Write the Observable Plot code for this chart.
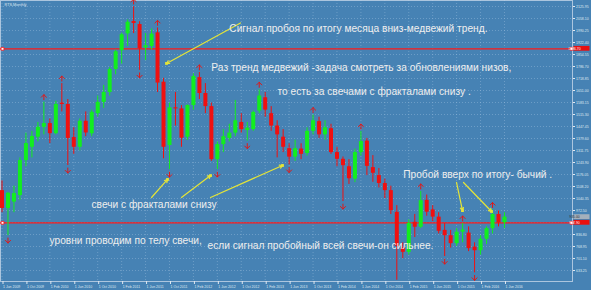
<!DOCTYPE html>
<html><head><meta charset="utf-8">
<script src="https://cdn.jsdelivr.net/npm/d3@7"></script>
<script src="https://cdn.jsdelivr.net/npm/@observablehq/plot@0.6"></script>
<style>
html,body{margin:0;padding:0;background:#4682b4;}
#chart{width:591px;height:290px;overflow:hidden;}
</style></head><body><div id="chart"></div>
<script>
// ---- data ----
const months = ["2009-06","2009-07","2009-08","2009-09","2009-10","2009-11","2009-12",
"2010-01","2010-02","2010-03","2010-04","2010-05","2010-06","2010-07","2010-08","2010-09","2010-10","2010-11","2010-12",
"2011-01","2011-02","2011-03","2011-04","2011-05","2011-06","2011-07","2011-08","2011-09","2011-10","2011-11","2011-12",
"2012-01","2012-02","2012-03","2012-04","2012-05","2012-06","2012-07","2012-08","2012-09","2012-10","2012-11","2012-12",
"2013-01","2013-02","2013-03","2013-04","2013-05","2013-06","2013-07","2013-08","2013-09","2013-10","2013-11","2013-12",
"2014-01","2014-02","2014-03","2014-04","2014-05","2014-06","2014-07","2014-08","2014-09","2014-10","2014-11","2014-12",
"2015-01","2015-02","2015-03","2015-04","2015-05","2015-06","2015-07","2015-08","2015-09","2015-10","2015-11","2015-12",
"2016-01","2016-02","2016-03","2016-04","2016-05","2016-06"];
const open  = [1085,984,1020,1057,1255,1330,1387, 1443,1464,1407,1580,1572,1385,1330,1477,1406,1520,1584,1640,
 1770,1876,1971,2041,2024,1892,1900,1977,1698,1340,1553,1547, 1387,1566,1724,1634,1560,1260,1345,1380,1410,1470,1425,1430,
 1535,1610,1520,1450,1387,1322,1274,1320,1295,1420,1475,1400, 1435,1300,1262,1220,1150,1300,1365,1215,1170,1125,1085,962,
 760,736,906,878,1030,976,935,860,830,785,850,845, 765,745,810,870,950,903];
const high  = [1140,1075,1110,1270,1410,1420,1470, 1585,1490,1590,1690,1600,1440,1490,1530,1540,1620,1680,1780,
 1880,1975,2050,2125,2040,1973,1999,2005,1720,1580,1640,1566, 1570,1745,1753,1690,1580,1360,1430,1460,1595,1520,1470,1535,
 1655,1640,1560,1480,1430,1350,1370,1350,1440,1512,1500,1480, 1460,1330,1275,1260,1320,1419,1380,1283,1210,1150,1110,1000,
 790,920,950,1080,1060,1000,960,900,860,870,899,880, 790,830,880,975,970,960];
const low   = [960,831,960,1030,1220,1270,1360, 1400,1351,1400,1530,1227,1290,1310,1390,1390,1500,1550,1620,
 1740,1800,1900,1973,1765,1820,1880,1640,1265,1204,1450,1330, 1370,1540,1600,1520,1250,1204,1300,1360,1390,1410,1365,1420,
 1520,1500,1420,1270,1300,1230,1250,1260,1280,1400,1380,1370, 1290,1220,1023,1120,1130,1280,1170,1132,1100,1040,950,578,
 700,720,820,870,940,910,840,712,760,770,790,740, 620,720,780,840,880,870];
const close = [984,1070,1068,1255,1351,1391,1443, 1464,1407,1572,1572,1380,1330,1477,1411,1528,1584,1640,1770,
 1870,1966,2037,2030,1887,1905,1970,1693,1330,1553,1547,1381, 1566,1730,1634,1560,1260,1345,1390,1410,1480,1430,1438,1527,
 1620,1540,1450,1400,1330,1274,1322,1290,1420,1480,1400,1440, 1300,1262,1226,1152,1300,1362,1222,1183,1125,1085,972,770,
 736,900,878,1028,963,935,855,830,785,850,862,757, 745,810,870,950,903,935];
const fractalUp   = [7,10,22,26,33,43,52,60,70,77,82];
const fractalDown = [1,11,23,28,36,41,48,57,74,79];
const levels = [1886.7, 902.9];
const yTicks = [633.25,701.10,768.95,836.80,904.65,972.50,1040.35,1108.20,1176.05,1243.90,1311.75,1379.60,
 1447.45,1515.30,1583.15,1651.00,1718.85,1786.70,1854.55,1922.40,1990.25,2058.10,2125.95];
const hiddenTick = 904.65; // covered by the red price tag in the reference
const xTickIdx = [0,4,8,12,16,20,24,28,32,36,40,44,48,52,56,60,64,68,72,76,80,84];
const xTickLabels = ["1 Jun 2009","1 Oct 2009","1 Feb 2010","1 Jun 2010","1 Oct 2010","1 Feb 2011","1 Jun 2011",
 "1 Oct 2011","1 Feb 2012","1 Jun 2012","1 Oct 2012","1 Feb 2013","1 Jun 2013","1 Oct 2013","1 Feb 2014",
 "1 Jun 2014","1 Oct 2014","1 Feb 2015","1 Jun 2015","1 Oct 2015","1 Feb 2016","1 Jun 2016"];
const noteText = ["Сигнал пробоя по итогу месяца вниз-медвежий тренд.",
 "Раз тренд медвежий -задача смотреть за обновлениями низов,",
 "то есть за свечами с фракталами снизу .",
 "свечи с фракталами снизу",
 "уровни проводим по телу свечи,",
 "если сигнал пробойный всей свечи-он сильнее.",
 "Пробой вверх по итогу- бычий ."];
const noteK = [38.0, 35.0, 46.05, 14.96, 7.94, 34.35, 67.07];
const noteP = [2001, 1781, 1645, 1006, 799, 772, 1176];
const arrowK1 = [39.87, 25.0, 30.0, 34.86, 75.98, 77.15];
const arrowP1 = [2033, 1046, 1046, 1046, 1131, 1131];
const arrowK2 = [27.5, 27.67, 34.86, 46.89, 76.98, 81.83];
const arrowP2 = [1804, 1148, 1170, 1227, 972, 967];

// ---- build tables ----
const candles = months.map((m, k) => ({k, m, open: open[k], high: high[k], low: low[k], close: close[k]}));
const ups = fractalUp.map(k => candles[k]);
const downs = fractalDown.map(k => candles[k]);
const notes = noteText.map((t, i) => ({text: t, k: noteK[i], p: noteP[i]}));
const arrows = arrowK1.map((_, i) => ({k1: arrowK1[i], p1: arrowP1[i], k2: arrowK2[i], p2: arrowP2[i]}));
const xLabel = new Map(xTickIdx.map((k, i) => [k, xTickLabels[i]]));

const GREEN = "#12ee1e", RED = "#f01010", YEL = "#e4e438", TXT = "#eeeeee", AX = "#dfe8f1";
const col = d => d.close >= d.open ? GREEN : RED;

const plot = Plot.plot({
  width: 591, height: 290,
  marginLeft: 0, marginRight: 19, marginTop: 0, marginBottom: 9,
  style: {background: "#4682b4", fontFamily: "'Liberation Sans', Arial, sans-serif", overflow: "visible"},
  x: {domain: [-0.2508, 95.37], axis: null},
  y: {domain: [571.05, 2159.9], axis: null},
  marks: [
    Plot.ruleY(yTicks, {stroke: "#9cbede", strokeOpacity: 0.45, strokeDasharray: "1,2"}),
    Plot.ruleX(xTickIdx, {stroke: "#9cbede", strokeOpacity: 0.45, strokeDasharray: "1,2"}),
    Plot.frame({stroke: "#c4d6e8", strokeOpacity: 0.8}),
    Plot.ruleY(levels, {stroke: "#ff1818", strokeWidth: 1.3}),
    Plot.ruleX(candles, {x: "k", y1: "low", y2: "high", stroke: col, strokeWidth: 1}),
    Plot.ruleX(candles, {x: "k", y1: "open", y2: "close", stroke: col, strokeWidth: 4}),
    Plot.vector(ups, {x: "k", y: "high", length: 5, rotate: 0, dy: -5, stroke: "#e01818", r: 9, strokeWidth: 1}),
    Plot.vector(downs, {x: "k", y: "low", length: 5, rotate: 180, dy: 5, stroke: "#e01818", r: 9, strokeWidth: 1}),
    Plot.dot(levels, {y: d => d, frameAnchor: "left", dx: 2, symbol: "square", r: 1.6, fill: "white", stroke: "#ff1818", strokeWidth: 0.8}),
    Plot.dot(levels, {y: d => d, frameAnchor: "right", dx: -1, symbol: "square", r: 1.6, fill: "white", stroke: "#ff1818", strokeWidth: 0.8}),
    Plot.arrow(arrows, {x1: "k1", y1: "p1", x2: "k2", y2: "p2", stroke: YEL, strokeWidth: 1.2, headLength: 4}),
    Plot.dot(arrows, {x: "k2", y: "p2", symbol: "square", r: 1.6, fill: YEL}),
    Plot.text(notes, {x: "k", y: "p", text: "text", textAnchor: "start", fill: TXT, fontSize: 10.2}),
    Plot.text(["RTS,Monthly"], {frameAnchor: "top-left", dx: 4, dy: 2.5, textAnchor: "start", lineAnchor: "top", fill: AX, fontSize: 3.8}),
    Plot.axisY(yTicks, {anchor: "right", tickSize: 2, tickPadding: 1.5, fontSize: 3.5, color: AX,
      tickFormat: d => d === hiddenTick ? "" : d.toFixed(2)}),
    Plot.axisX(xTickIdx, {anchor: "bottom", tickSize: 3, tickPadding: 1, fontSize: 3.5, color: AX, textAnchor: "start", dx: 1, tickFormat: d => xLabel.get(d)})
  ]
});
document.getElementById("chart").appendChild(plot);

// price tags on the right axis, placed with the plot's own y scale
const ys = plot.scale("y");
const svg = d3.select(plot);
const tags = levels.map(v => ({v, fill: "#e81010", color: "#ffffff"}))
  .concat([{v: close[close.length - 1], fill: "#a4b0bc", color: "#303030"}]);
const g = svg.append("g");
tags.forEach(t => {
  const y = ys.apply(t.v);
  g.append("rect").attr("x", 573.5).attr("y", y - 2.4).attr("width", 16).attr("height", 4.8).attr("fill", t.fill);
  g.append("text").attr("x", 574.5).attr("y", y + 1.2).attr("font-size", 3.4).attr("fill", t.color)
    .attr("font-family", "'Liberation Sans', Arial, sans-serif").text(t.v.toFixed(2));
});
</script>
</body></html>
